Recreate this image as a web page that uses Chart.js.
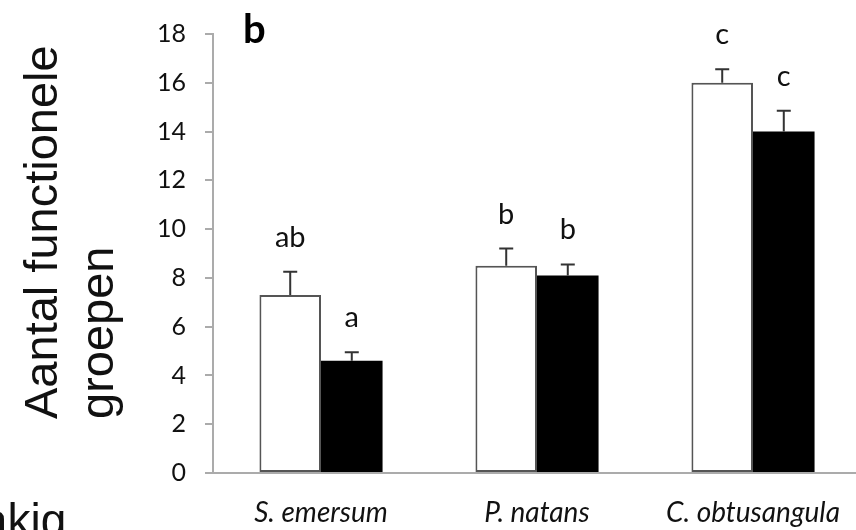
<!DOCTYPE html>
<html>
<head>
<meta charset="utf-8">
<script src="https://cdn.jsdelivr.net/npm/chart.js@4.4.1/dist/chart.umd.min.js"></script>
<style>
    html, body { margin: 0; padding: 0; background: #fff; overflow: hidden; }
    #wrap { width: 856px; height: 530px; overflow: hidden; }
</style>
</head>
<body>
<div id="wrap"><canvas id="chart" width="880" height="530"></canvas></div>
<script>
// data
const categories = ['S. emersum', 'P. natans', 'C. obtusangula'];
const openValues = [7.3, 8.5, 16.0];
const openErrors = [0.95, 0.7, 0.55];
const filledValues = [4.6, 8.1, 14.0];
const filledErrors = [0.35, 0.45, 0.85];
const openLetters = ['ab', 'b', 'c'];
const filledLetters = ['a', 'b', 'c'];
const yMin = 0, yMax = 18, yStep = 2;

const axisGray = '#ababab';
const textDark = '#111';

// error bars (upward only) + significance letters
const errorBars = {
    id: 'errorBars',
    afterDatasetsDraw(chart) {
        const ctx = chart.ctx;
        const yScale = chart.scales.y;
        chart.data.datasets.forEach((ds, i) => {
            const meta = chart.getDatasetMeta(i);
            meta.data.forEach((bar, j) => {
                const top = yScale.getPixelForValue(ds.data[j] + ds.errors[j]);
                ctx.save();
                ctx.strokeStyle = '#333';
                ctx.lineWidth = 2;
                ctx.beginPath();
                ctx.moveTo(bar.x, bar.y);
                ctx.lineTo(bar.x, top);
                ctx.moveTo(bar.x - 7, top);
                ctx.lineTo(bar.x + 7, top);
                ctx.stroke();

                ctx.fillStyle = textDark;
                ctx.font = '29px Lato';
                ctx.textAlign = 'center';
                ctx.textBaseline = 'alphabetic';
                ctx.fillText(ds.letters[j], bar.x, top - 25);
                ctx.restore();
            });
        });
    }
};

// panel letter, axis title, cut-off text bottom left
const extraText = {
    id: 'extraText',
    afterDraw(chart) {
        const ctx = chart.ctx;
        ctx.save();
        ctx.fillStyle = '#000';
        ctx.font = 'bold 40px Lato';
        ctx.textAlign = 'left';
        ctx.textBaseline = 'alphabetic';
        ctx.fillText('b', 243, 43);

        ctx.fillStyle = '#111';
        ctx.font = '47px "Liberation Sans"';
        ctx.save();
        ctx.translate(57, 419);
        ctx.rotate(-Math.PI / 2);
        ctx.fillText('Aantal functionele', 0, 0);
        ctx.restore();
        ctx.save();
        ctx.translate(113, 419);
        ctx.rotate(-Math.PI / 2);
        ctx.fillText('groepen', 0, 0);
        ctx.restore();

        ctx.font = '46px "Liberation Sans"';
        ctx.fillText('akig', -18, 536);
        ctx.restore();
    }
};

new Chart(document.getElementById('chart'), {
    type: 'bar',
    data: {
        labels: categories,
        datasets: [
            {
                label: 'open',
                data: openValues,
                errors: openErrors,
                letters: openLetters,
                backgroundColor: '#fff',
                borderColor: '#555',
                borderWidth: 2,
                borderSkipped: false
            },
            {
                label: 'filled',
                data: filledValues,
                errors: filledErrors,
                letters: filledLetters,
                backgroundColor: '#000',
                borderColor: '#000',
                borderWidth: 0
            }
        ]
    },
    options: {
        responsive: false,
        animation: false,
        layout: { padding: { left: 0, top: 23, right: 19, bottom: 0 } },
        datasets: { bar: { categoryPercentage: 0.57, barPercentage: 1.0 } },
        plugins: { legend: { display: false }, tooltip: { enabled: false } },
        scales: {
            x: {
                grid: { display: false, drawTicks: false },
                border: { display: true, color: axisGray, width: 2 },
                ticks: {
                    color: textDark,
                    padding: 23,
                    font: { family: 'Lato', size: 28, style: 'italic' },
                    maxRotation: 0,
                    autoSkip: false
                },
                afterFit: (scale) => { scale.height = 57; }
            },
            y: {
                min: yMin,
                max: yMax,
                grid: { drawOnChartArea: false, color: axisGray, tickLength: 8, tickWidth: 2, lineWidth: 2 },
                border: { display: true, color: axisGray, width: 2 },
                ticks: {
                    stepSize: yStep,
                    color: textDark,
                    padding: 19,
                    font: { family: 'Lato', size: 25 }
                },
                afterFit: (scale) => { scale.width = 213; }
            }
        }
    },
    plugins: [errorBars, extraText]
});
</script>
</body>
</html>
